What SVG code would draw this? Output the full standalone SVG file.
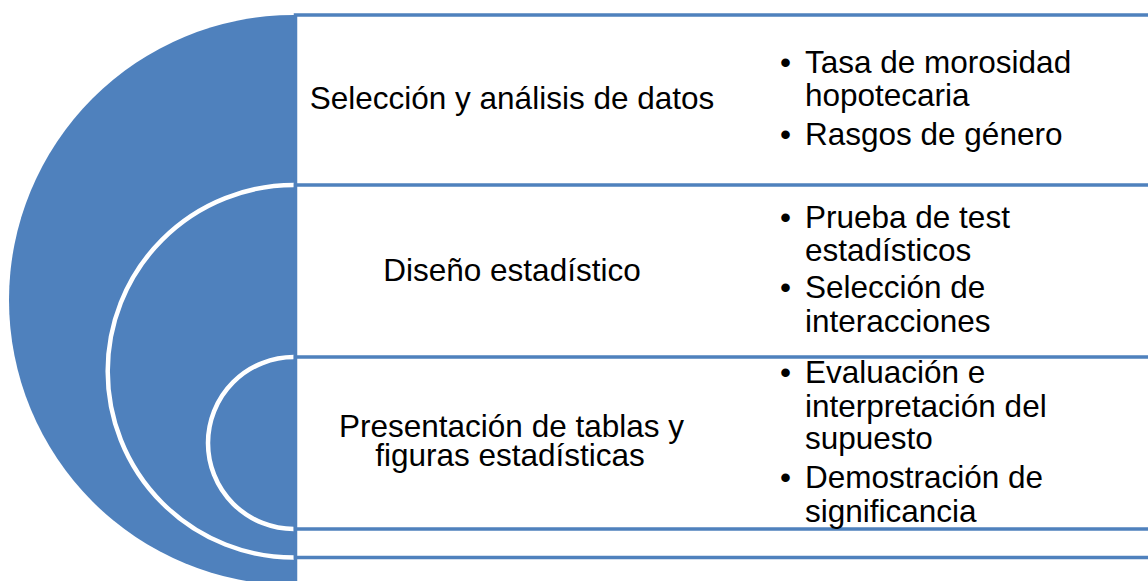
<svg xmlns="http://www.w3.org/2000/svg" width="1148" height="581" viewBox="0 0 1148 581">
<style>
.circ{fill:#4F81BD;stroke:#FFFFFF;stroke-width:4.5}
.box{fill:#FFFFFF;stroke:#4F81BD;stroke-width:3.5}
.t{font-family:"Liberation Sans",Arial,sans-serif;font-size:31.5px;fill:#000000}
.c{text-anchor:middle}
</style>
<rect width="1148" height="581" fill="#FFFFFF"/>
<g id="circles">
<circle class="circ" cx="294" cy="300" r="285" style="stroke-width:0"/>
<circle class="circ" cx="294" cy="371.3" r="186.3"/>
<circle class="circ" cx="294" cy="443" r="86"/>
</g>
<g id="node1">
<rect class="box" x="295.5" y="15" width="900" height="570"/>
<text class="t c" x="512" y="108.5">Selección y análisis de datos</text>
<text class="t" x="780" y="72.7">•</text>
<text class="t" x="805" y="72.7">Tasa de morosidad</text>
<text class="t" x="805" y="106">hopotecaria</text>
<text class="t" x="780" y="145">•</text>
<text class="t" x="805" y="145">Rasgos de género</text>
</g>
<g id="node2">
<rect class="box" x="295.5" y="185" width="900" height="372.5"/>
<text class="t c" x="512" y="280.5">Diseño estadístico</text>
<text class="t" x="780" y="228.3">•</text>
<text class="t" x="805" y="228.3">Prueba de test</text>
<text class="t" x="805" y="261">estadísticos</text>
<text class="t" x="780" y="298.3">•</text>
<text class="t" x="805" y="298.3">Selección de</text>
<text class="t" x="805" y="331.5">interacciones</text>
</g>
<g id="node3">
<rect class="box" x="295.5" y="357" width="900" height="172"/>
<text class="t c" x="511.5" y="436.7">Presentación de tablas y</text>
<text class="t c" x="510" y="465.5">figuras estadísticas</text>
<text class="t" x="780" y="383.3">•</text>
<text class="t" x="805" y="383.3">Evaluación e</text>
<text class="t" x="805" y="416.7">interpretación del</text>
<text class="t" x="805" y="449">supuesto</text>
<text class="t" x="780" y="488.3">•</text>
<text class="t" x="805" y="488.3">Demostración de</text>
<text class="t" x="805" y="521.7">significancia</text>
</g>
<g id="connectors"></g>
</svg>
